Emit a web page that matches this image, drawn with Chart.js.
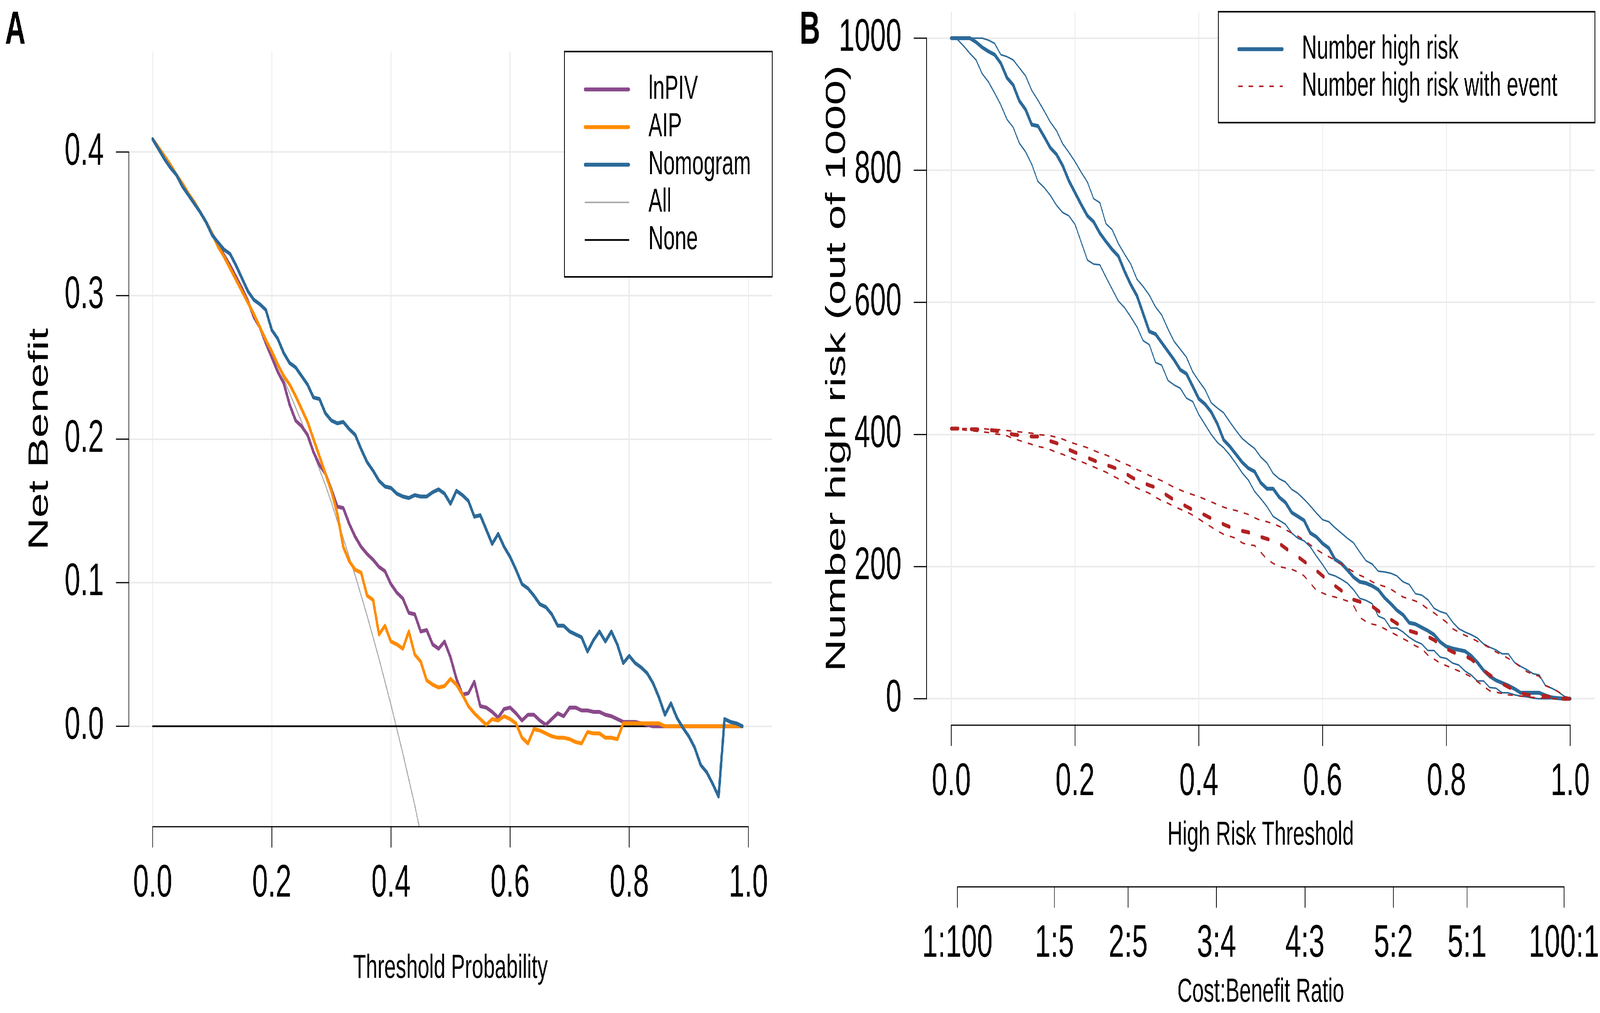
<!DOCTYPE html>
<html>
<head>
<meta charset="utf-8">
<script src="https://cdn.jsdelivr.net/npm/chart.js@4.4.1/dist/chart.umd.min.js"></script>
<style>
  html, body { margin: 0; padding: 0; background: #fff; overflow: hidden; }
  #wrap { position: relative; width: 6645px; height: 2594px; transform-origin: 0 0; }
  canvas { position: absolute; top: 0; }
</style>
</head>
<body>
<div id="wrap">
  <canvas id="dcaChart" width="3300" height="2594" style="left:0"></canvas>
  <canvas id="impactChart" width="3345" height="2594" style="left:3300px"></canvas>
</div>
<script>
// threshold probabilities (x axis for both panels)
const thresholds = [
  0.00, 0.01, 0.02, 0.03, 0.04, 0.05, 0.06, 0.07, 0.08, 0.09,
  0.10, 0.11, 0.12, 0.13, 0.14, 0.15, 0.16, 0.17, 0.18, 0.19,
  0.20, 0.21, 0.22, 0.23, 0.24, 0.25, 0.26, 0.27, 0.28, 0.29,
  0.30, 0.31, 0.32, 0.33, 0.34, 0.35, 0.36, 0.37, 0.38, 0.39,
  0.40, 0.41, 0.42, 0.43, 0.44, 0.45, 0.46, 0.47, 0.48, 0.49,
  0.50, 0.51, 0.52, 0.53, 0.54, 0.55, 0.56, 0.57, 0.58, 0.59,
  0.60, 0.61, 0.62, 0.63, 0.64, 0.65, 0.66, 0.67, 0.68, 0.69,
  0.70, 0.71, 0.72, 0.73, 0.74, 0.75, 0.76, 0.77, 0.78, 0.79,
  0.80, 0.81, 0.82, 0.83, 0.84, 0.85, 0.86, 0.87, 0.88, 0.89,
  0.90, 0.91, 0.92, 0.93, 0.94, 0.95, 0.96, 0.97, 0.98, 0.99,
  1.00
];

// ---- Panel A: net benefit ----
const lnPIV = [
  0.409, 0.403, 0.397, 0.391, 0.384, 0.378, 0.371, 0.365, 0.358, 0.351,
  0.343, 0.336, 0.328, 0.321, 0.313, 0.305, 0.296, 0.285, 0.278, 0.267,
  0.257, 0.247, 0.239, 0.224, 0.213, 0.209, 0.203, 0.191, 0.182, 0.176,
  0.165, 0.153, 0.152, 0.141, 0.132, 0.125, 0.120, 0.116, 0.111, 0.108,
  0.099, 0.093, 0.089, 0.079, 0.078, 0.066, 0.067, 0.057, 0.054, 0.059,
  0.048, 0.033, 0.022, 0.023, 0.031, 0.014, 0.013, 0.010, 0.006, 0.012,
  0.013, 0.009, 0.004, 0.008, 0.008, 0.004, 0.001, 0.005, 0.009, 0.007,
  0.013, 0.013, 0.011, 0.011, 0.010, 0.010, 0.008, 0.007, 0.005, 0.003,
  0.003, 0.003, 0.002, 0.001, 0.000, 0.000, 0.000, 0.000, 0.000, 0.000,
  0.000, 0.000, 0.000, 0.000, 0.000, 0.000, 0.000, 0.000, 0.000, 0.000
];
const aip = [
  0.409, 0.403, 0.397, 0.391, 0.384, 0.378, 0.371, 0.365, 0.358, 0.351,
  0.343, 0.334, 0.327, 0.319, 0.311, 0.303, 0.295, 0.287, 0.278, 0.269,
  0.261, 0.252, 0.244, 0.238, 0.230, 0.221, 0.212, 0.200, 0.188, 0.176,
  0.164, 0.148, 0.125, 0.115, 0.109, 0.107, 0.091, 0.088, 0.064, 0.070,
  0.059, 0.057, 0.054, 0.066, 0.050, 0.045, 0.032, 0.029, 0.027, 0.028,
  0.033, 0.029, 0.022, 0.014, 0.009, 0.005, 0.001, 0.005, 0.004, 0.007,
  0.005, 0.002, -0.008, -0.012, -0.002, -0.003, -0.005, -0.007, -0.008, -0.008,
  -0.009, -0.011, -0.012, -0.004, -0.005, -0.005, -0.008, -0.008, -0.009, 0.002,
  0.002, 0.002, 0.002, 0.002, 0.002, 0.002, 0.000, 0.000, 0.000, 0.000,
  0.000, 0.000, 0.000, 0.000, 0.000, 0.000, 0.000, 0.000, 0.000, 0.000
];
const nomogram = [
  0.409, 0.402, 0.395, 0.389, 0.384, 0.376, 0.370, 0.364, 0.358, 0.351,
  0.342, 0.337, 0.332, 0.329, 0.321, 0.312, 0.303, 0.297, 0.294, 0.290,
  0.276, 0.270, 0.260, 0.253, 0.250, 0.244, 0.238, 0.229, 0.228, 0.218,
  0.213, 0.211, 0.212, 0.207, 0.203, 0.193, 0.184, 0.178, 0.171, 0.167,
  0.166, 0.162, 0.160, 0.159, 0.161, 0.160, 0.160, 0.163, 0.165, 0.162,
  0.155, 0.164, 0.161, 0.157, 0.146, 0.147, 0.137, 0.127, 0.134, 0.125,
  0.118, 0.109, 0.099, 0.096, 0.091, 0.085, 0.083, 0.078, 0.070, 0.070,
  0.066, 0.064, 0.062, 0.052, 0.060, 0.066, 0.059, 0.066, 0.057, 0.044,
  0.049, 0.044, 0.041, 0.037, 0.030, 0.020, 0.008, 0.016, 0.006, -0.001,
  -0.007, -0.015, -0.027, -0.032, -0.040, -0.049, 0.005, 0.003, 0.002, 0.000
];
const treatAll = [
  0.409, 0.403, 0.397, 0.391, 0.384, 0.378, 0.371, 0.365, 0.358, 0.351,
  0.343, 0.336, 0.328, 0.321, 0.313, 0.305, 0.296, 0.288, 0.279, 0.270,
  0.261, 0.252, 0.242, 0.232, 0.222, 0.212, 0.201, 0.190, 0.179, 0.168,
  0.156, 0.143, 0.131, 0.118, 0.105, 0.091, 0.077, 0.062, 0.047, 0.031,
  0.015, -0.002, -0.019, -0.037, -0.055, -0.075, -0.094
];
const noneThresholds = [0, 0.99];
const treatNone = [0, 0];

const netBenefitTicks = [0, 0.1, 0.2, 0.3, 0.4];
const probabilityTicks = [0, 0.2, 0.4, 0.6, 0.8, 1.0];

// ---- Panel B: clinical impact (out of 1000) ----
const highRisk = [
  1000, 1000, 1000, 1000, 994, 986, 980, 975, 962, 940,
  929, 905, 892, 869, 867, 851, 834, 824, 807, 784,
  766, 748, 731, 722, 705, 692, 680, 670, 647, 627,
  610, 583, 556, 552, 539, 526, 513, 498, 492, 473,
  454, 446, 434, 416, 392, 382, 370, 358, 349, 344,
  327, 318, 318, 305, 297, 282, 276, 270, 251, 245,
  235, 228, 211, 205, 195, 184, 177, 175, 171, 165,
  153, 144, 134, 127, 115, 113, 108, 103, 97, 86,
  79, 76, 74, 72, 65, 55, 43, 34, 28, 24,
  20, 15, 9, 9, 9, 9, 5, 2, 1, 0,
  0
];
const highRiskUpper = [
  1000, 1000, 1000, 1000, 1000, 1000, 997, 992, 975, 972,
  967, 955, 943, 921, 906, 890, 873, 860, 840, 827,
  813, 797, 782, 757, 751, 719, 710, 689, 673, 658,
  635, 624, 611, 593, 581, 560, 541, 529, 517, 495,
  481, 468, 448, 440, 433, 419, 406, 394, 386, 379,
  366, 357, 341, 333, 328, 317, 311, 302, 292, 281,
  271, 268, 259, 251, 243, 236, 222, 209, 204, 193,
  192, 190, 186, 177, 173, 159, 157, 150, 137, 132,
  129, 116, 106, 101, 97, 92, 83, 78, 74, 68,
  68, 55, 49, 44, 38, 36, 20, 16, 11, 4,
  0
];
const highRiskLower = [
  1000, 998, 988, 977, 967, 946, 934, 917, 899, 877,
  865, 841, 828, 809, 783, 774, 762, 747, 736, 731,
  718, 691, 664, 658, 657, 638, 620, 602, 592, 578,
  563, 542, 536, 509, 505, 482, 475, 470, 455, 450,
  430, 415, 400, 388, 380, 369, 356, 342, 331, 314,
  303, 291, 276, 270, 264, 251, 243, 239, 230, 216,
  203, 189, 186, 181, 175, 165, 152, 149, 144, 125,
  121, 107, 107, 101, 93, 87, 83, 73, 73, 63,
  61, 54, 51, 42, 36, 27, 27, 17, 16, 9,
  9, 6, 4, 3, 1, 0, 0, 0, 0, 0,
  0
];
const highRiskEvent = [
  409, 409, 409, 408, 408, 407, 407, 406, 404, 402,
  400, 399, 398, 397, 397, 394, 390, 387, 383, 377,
  373, 369, 365, 361, 357, 354, 351, 347, 342, 336,
  331, 327, 323, 320, 313, 307, 301, 296, 291, 286,
  282, 278, 273, 269, 264, 260, 256, 254, 252, 249,
  245, 242, 239, 235, 228, 221, 215, 208, 201, 194,
  186, 178, 171, 164, 157, 150, 147, 144, 140, 133,
  126, 120, 114, 108, 103, 100, 97, 94, 89, 82,
  76, 71, 67, 65, 60, 52, 43, 36, 29, 23,
  18, 13, 9, 6, 5, 5, 4, 2, 1, 0,
  0
];
const highRiskEventUpper = [
  409, 409, 409, 409, 409, 409, 408, 408, 407, 406,
  405, 404, 403, 402, 400, 399, 398, 396, 393, 389,
  386, 383, 380, 376, 372, 369, 365, 360, 356, 352,
  347, 343, 338, 334, 330, 325, 320, 316, 312, 309,
  306, 302, 298, 294, 290, 287, 285, 282, 279, 274,
  270, 268, 265, 261, 256, 251, 246, 240, 233, 226,
  220, 215, 210, 204, 198, 192, 187, 183, 177, 173,
  170, 166, 160, 154, 151, 148, 143, 136, 130, 123,
  116, 106, 101, 96, 92, 87, 82, 77, 71, 66,
  61, 55, 48, 41, 37, 34, 20, 16, 11, 5,
  0
];
const highRiskEventLower = [
  409, 408, 407, 406, 405, 404, 403, 401, 400, 398,
  394, 391, 388, 385, 382, 380, 377, 373, 370, 366,
  362, 359, 355, 351, 347, 343, 338, 333, 329, 324,
  319, 315, 311, 305, 300, 296, 291, 287, 283, 278,
  272, 266, 260, 254, 249, 246, 243, 236, 233, 232,
  222, 211, 205, 200, 198, 196, 192, 186, 175, 164,
  160, 156, 154, 151, 148, 141, 123, 117, 113, 111,
  106, 101, 96, 91, 86, 80, 76, 66, 60, 54,
  50, 46, 42, 38, 33, 26, 19, 12, 10, 8,
  6, 5, 4, 3, 2, 1, 1, 0, 0, 0,
  0
];

const countTicks = [0, 200, 400, 600, 800, 1000];
const costBenefitLabels = ['1:100', '1:5', '2:5', '3:4', '4:3', '5:2', '5:1', '100:1'];

const FONT = "'Liberation Sans', Arial, Helvetica, sans-serif";
const GRID = '#EBEBEB';
const BLUE = '#2C6A99';
const RED = '#B22222';

Chart.defaults.color = '#000';
Chart.defaults.font.family = FONT;

// the figure is laid out at 6645 x 2594; stretch it onto whatever window we get
function fitToWindow() {
  const sx = window.innerWidth / 6645;
  const sy = window.innerHeight / 2594;
  document.getElementById('wrap').style.transform = 'scale(' + sx + ',' + sy + ')';
}
fitToWindow();
window.addEventListener('resize', fitToWindow);

function toPoints(xs, ys) {
  return ys.map((y, i) => ({ x: xs[i], y: y }));
}

// ratio "c:b" sits at threshold c / (c + b)
const costBenefitAt = costBenefitLabels.map(l => {
  const [c, b] = l.split(':').map(Number);
  return c / (c + b);
});

// R style axes: line only between first and last tick, ticks pointing outward
const rAxes = {
  id: 'rAxes',
  afterDraw(chart, args, opts) {
    const ctx = chart.ctx;
    const area = chart.chartArea;
    const tl = 52;
    ctx.save();
    ctx.strokeStyle = '#000';
    ctx.lineWidth = 3;
    ctx.lineCap = 'round';
    const seg = (x1, y1, x2, y2) => {
      ctx.beginPath(); ctx.moveTo(x1, y1); ctx.lineTo(x2, y2); ctx.stroke();
    };
    const ys = chart.scales.y;
    const yp = ys.ticks.map(t => ys.getPixelForValue(t.value));
    seg(area.left, yp[0], area.left, yp[yp.length - 1]);
    yp.forEach(p => seg(area.left - tl, p, area.left, p));
    opts.xAxes.forEach(a => {
      const sc = chart.scales[a.id];
      const y0 = sc.top + a.offset;
      const xp = sc.ticks.map(t => sc.getPixelForValue(t.value));
      seg(xp[0], y0, xp[xp.length - 1], y0);
      xp.forEach(p => seg(p, y0, p, y0 + tl));
    });
    ctx.restore();
  }
};

// boxed legend in the top right corner of the plot region
const boxLegend = {
  id: 'boxLegend',
  afterDraw(chart, args, opts) {
    const ctx = chart.ctx;
    const area = chart.chartArea;
    const left = area.right - opts.width;
    const top = area.top;
    ctx.save();
    ctx.fillStyle = '#fff';
    ctx.fillRect(left, top, opts.width, opts.height);
    ctx.strokeStyle = '#000';
    ctx.lineWidth = 4;
    ctx.strokeRect(left, top, opts.width, opts.height);
    ctx.font = '86px ' + FONT;
    ctx.textBaseline = 'middle';
    ctx.textAlign = 'left';
    opts.items.forEach((it, row) => {
      const ds = chart.data.datasets[it.ds];
      const y = top + opts.firstRow + row * opts.rowGap;
      ctx.beginPath();
      ctx.strokeStyle = ds.borderColor;
      ctx.lineWidth = it.width;
      ctx.lineCap = 'round';
      ctx.setLineDash(it.dash || []);
      ctx.moveTo(left + opts.lineFrom, y);
      ctx.lineTo(left + opts.lineTo, y);
      ctx.stroke();
      ctx.setLineDash([]);
      ctx.fillStyle = '#000';
      ctx.fillText(ds.label, left + opts.textX, y);
    });
    ctx.restore();
  }
};

const panelTag = {
  id: 'panelTag',
  afterDraw(chart, args, opts) {
    const ctx = chart.ctx;
    ctx.save();
    ctx.font = 'bold 118px ' + FONT;
    ctx.fillStyle = '#000';
    ctx.textBaseline = 'alphabetic';
    ctx.fillText(opts.text, 21, 112);
    ctx.restore();
  }
};

function fixedTicks(values) {
  return scale => { scale.ticks = values.map(v => ({ value: v })); };
}
function fixedSize(prop, size) {
  return scale => {
    scale[prop] = size;
    scale.paddingLeft = scale.paddingRight = scale.paddingTop = scale.paddingBottom = 0;
  };
}

const tickFont = { family: FONT, size: 117 };
const gridOpts = { color: GRID, lineWidth: 4, drawTicks: false };

// ---------- Panel A ----------
new Chart(document.getElementById('dcaChart'), {
  type: 'line',
  data: {
    datasets: [
      { label: 'lnPIV', data: toPoints(thresholds, lnPIV), borderColor: '#8A4A8A', borderWidth: 10, order: 2 },
      { label: 'AIP', data: toPoints(thresholds, aip), borderColor: '#FF8C00', borderWidth: 10, order: 1 },
      { label: 'Nomogram', data: toPoints(thresholds, nomogram), borderColor: BLUE, borderWidth: 10, order: 0 },
      { label: 'All', data: toPoints(thresholds, treatAll), borderColor: '#AAAAAA', borderWidth: 4, order: 4 },
      { label: 'None', data: toPoints(noneThresholds, treatNone), borderColor: '#000000', borderWidth: 4.5, order: 3 }
    ]
  },
  options: {
    responsive: false,
    devicePixelRatio: 1,
    animation: false,
    events: [],
    layout: { autoPadding: false, padding: { left: 0, top: 132, right: 93, bottom: 0 } },
    elements: {
      point: { radius: 0 },
      line: { tension: 0, fill: false, borderCapStyle: 'round', borderJoinStyle: 'round' }
    },
    plugins: {
      legend: { display: false },
      tooltip: { enabled: false },
      rAxes: { xAxes: [{ id: 'x', offset: 0 }] },
      boxLegend: {
        width: 863, height: 577, firstRow: 97, rowGap: 96.4, lineFrom: 86, lineTo: 267, textX: 349,
        items: [{ ds: 0, width: 10 }, { ds: 1, width: 10 }, { ds: 2, width: 10 }, { ds: 3, width: 4 }, { ds: 4, width: 4.5 }]
      },
      panelTag: { text: 'A' }
    },
    scales: {
      x: {
        type: 'linear', min: -0.04, max: 1.04,
        afterBuildTicks: fixedTicks(probabilityTicks),
        afterFit: fixedSize('height', 477),
        grid: gridOpts,
        border: { display: false },
        ticks: { padding: 77, font: tickFont, autoSkip: false, maxRotation: 0, callback: v => v.toFixed(1) },
        title: { display: true, text: 'Threshold Probability', font: { family: FONT, size: 86 }, padding: { top: 0, bottom: 62 } }
      },
      y: {
        type: 'linear', min: -0.07, max: 0.47,
        afterBuildTicks: fixedTicks(netBenefitTicks),
        afterFit: fixedSize('width', 535),
        grid: gridOpts,
        border: { display: false },
        ticks: { padding: 104, font: tickFont, autoSkip: false, callback: v => v.toFixed(1) },
        title: { display: true, text: 'Net Benefit', font: { family: FONT, size: 115 }, padding: { top: 97, bottom: 0 } }
      }
    }
  },
  plugins: [rAxes, boxLegend, panelTag]
});

// ---------- Panel B ----------
new Chart(document.getElementById('impactChart'), {
  type: 'line',
  data: {
    datasets: [
      { label: 'Number high risk', data: toPoints(thresholds, highRisk), borderColor: BLUE, borderWidth: 10, order: 3 },
      { label: 'Number high risk (upper)', data: toPoints(thresholds, highRiskUpper), borderColor: BLUE, borderWidth: 4, order: 4 },
      { label: 'Number high risk (lower)', data: toPoints(thresholds, highRiskLower), borderColor: BLUE, borderWidth: 4, order: 5 },
      { label: 'Number high risk with event', data: toPoints(thresholds, highRiskEvent), borderColor: RED, borderWidth: 10, borderDash: [28, 55], order: 0 },
      { label: 'Number high risk with event (upper)', data: toPoints(thresholds, highRiskEventUpper), borderColor: RED, borderWidth: 4, borderDash: [18, 28], order: 1 },
      { label: 'Number high risk with event (lower)', data: toPoints(thresholds, highRiskEventLower), borderColor: RED, borderWidth: 4, borderDash: [18, 28], order: 2 }
    ]
  },
  options: {
    responsive: false,
    devicePixelRatio: 1,
    animation: false,
    events: [],
    layout: { autoPadding: false, padding: { left: 0, top: 30, right: 21, bottom: 0 } },
    elements: {
      point: { radius: 0 },
      line: { tension: 0, fill: false, borderCapStyle: 'round', borderJoinStyle: 'round' }
    },
    plugins: {
      legend: { display: false },
      tooltip: { enabled: false },
      rAxes: { xAxes: [{ id: 'x', offset: 0 }, { id: 'x2', offset: 61 }] },
      boxLegend: {
        width: 1564, height: 284, firstRow: 96, rowGap: 95, lineFrom: 84, lineTo: 266, textX: 347,
        items: [{ ds: 0, width: 10 }, { ds: 3, width: 4, dash: [16, 27] }]
      },
      panelTag: { text: 'B' }
    },
    scales: {
      x: {
        type: 'linear', position: 'bottom', min: -0.04, max: 1.04,
        afterBuildTicks: fixedTicks(probabilityTicks),
        afterFit: fixedSize('height', 353),
        grid: gridOpts,
        border: { display: false },
        ticks: { padding: 77, font: tickFont, autoSkip: false, maxRotation: 0, callback: v => v.toFixed(1) },
        title: { display: true, text: 'High Risk Threshold', font: { family: FONT, size: 86 }, padding: { top: 0, bottom: 19 } }
      },
      x2: {
        type: 'linear', position: 'bottom', min: -0.04, max: 1.04,
        afterBuildTicks: fixedTicks(costBenefitAt),
        afterFit: fixedSize('height', 384),
        grid: { display: false, drawTicks: false },
        border: { display: false },
        ticks: { padding: 138, font: tickFont, autoSkip: false, maxRotation: 0, callback: (v, i) => costBenefitLabels[i] },
        title: { display: true, text: 'Cost:Benefit Ratio', font: { family: FONT, size: 86 }, padding: { top: 0, bottom: 1 } }
      },
      y: {
        type: 'linear', min: -40, max: 1040,
        afterBuildTicks: fixedTicks(countTicks),
        afterFit: fixedSize('width', 548),
        grid: gridOpts,
        border: { display: false },
        ticks: { padding: 104, font: tickFont, autoSkip: false, callback: v => String(v) },
        title: { display: true, text: 'Number high risk (out of 1000)', font: { family: FONT, size: 115 }, padding: { top: 108, bottom: 0 } }
      }
    }
  },
  plugins: [rAxes, boxLegend, panelTag]
});
</script>
</body>
</html>
